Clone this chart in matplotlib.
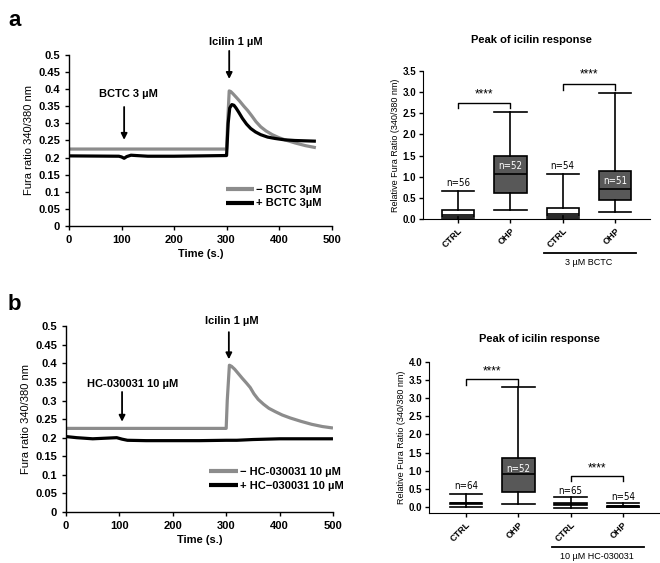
import matplotlib
matplotlib.use("Agg")
import matplotlib.pyplot as plt
import numpy as np

plt.rcParams['font.family'] = ['Liberation Sans', 'DejaVu Sans']

# ---------------- data ----------------
# panel a, traces
a_gray_t = [0, 300, 302, 305, 308, 312, 318, 325, 333, 340, 348, 356, 365, 375, 387, 400, 415, 430, 450, 470]
a_gray_y = [0.225, 0.225, 0.30, 0.395, 0.393, 0.387, 0.377, 0.365, 0.35, 0.338, 0.322, 0.305, 0.29, 0.278,
            0.267, 0.258, 0.25, 0.243, 0.235, 0.229]
a_black_t = [0, 95, 100, 105, 110, 118, 128, 150, 200, 250, 298, 300, 303, 306, 310, 314, 318, 323, 330, 338,
             346, 355, 365, 378, 392, 410, 430, 470]
a_black_y = [0.205, 0.204, 0.202, 0.198, 0.203, 0.207, 0.206, 0.204, 0.204, 0.205, 0.206, 0.206, 0.30, 0.345,
             0.355, 0.353, 0.345, 0.333, 0.315, 0.298, 0.285, 0.275, 0.267, 0.26, 0.256, 0.252, 0.25, 0.248]
# panel b, traces
b_gray_t = [0, 300, 302, 306, 310, 316, 323, 330, 338, 345, 352, 360, 370, 380, 392, 405, 420, 440, 460, 480, 500]
b_gray_y = [0.225, 0.225, 0.30, 0.395, 0.392, 0.384, 0.372, 0.36, 0.347, 0.335, 0.318, 0.303, 0.29, 0.279,
            0.27, 0.261, 0.253, 0.244, 0.236, 0.23, 0.226]
b_black_t = [0, 20, 50, 80, 95, 105, 115, 150, 200, 250, 300, 320, 350, 400, 450, 500]
b_black_y = [0.203, 0.200, 0.197, 0.199, 0.200, 0.196, 0.193, 0.192, 0.192, 0.192, 0.193, 0.193, 0.195,
             0.197, 0.197, 0.197]

# box plots
box_cats = ['CTRL', 'OHP', 'CTRL', 'OHP']
a_low = [0.0, 0.22, 0.02, 0.16]
a_q1 = [0.05, 0.62, 0.07, 0.45]
a_med = [0.10, 1.07, 0.12, 0.70]
a_q3 = [0.22, 1.50, 0.27, 1.13]
a_high = [0.67, 2.52, 1.07, 2.97]
a_n = ['n=56', 'n=52', 'n=54', 'n=51']
a_ticks = [0.0, 0.5, 1.0, 1.5, 2.0, 2.5, 3.0, 3.5]

b_low = [0.0, 0.07, -0.02, 0.0]
b_q1 = [0.07, 0.40, 0.05, 0.0]
b_med = [0.10, 0.90, 0.07, 0.02]
b_q3 = [0.12, 1.35, 0.10, 0.03]
b_high = [0.35, 3.30, 0.27, 0.12]
b_n = ['n=64', 'n=52', 'n=65', 'n=54']
b_ticks = [0.0, 0.5, 1.0, 1.5, 2.0, 2.5, 3.0, 3.5, 4.0]

GRAY = '#8c8c8c'
DARK = '#585858'

fig = plt.figure(figsize=(6.6, 5.63), dpi=100)


def trace_axes(rect, gt, gy, bt, by, drug_label, drug_xy, drug_arrow, ic_xy, ic_arrow, leg_labels, leg_anchor):
    ax = fig.add_axes(rect)
    ax.plot(gt, gy, color=GRAY, lw=2.3, solid_capstyle='butt')
    ax.plot(bt, by, color='black', lw=2.3, solid_capstyle='butt')
    ax.set_xlim(0, 500)
    ax.set_ylim(0, 0.5)
    ax.set_xticks([0, 100, 200, 300, 400, 500])
    ax.set_yticks([0, 0.05, 0.1, 0.15, 0.2, 0.25, 0.3, 0.35, 0.4, 0.45, 0.5])
    ax.set_yticklabels(['0', '0.05', '0.1', '0.15', '0.2', '0.25', '0.3', '0.35', '0.4', '0.45', '0.5'])
    for s in ['top', 'right']:
        ax.spines[s].set_visible(False)
    for s in ['left', 'bottom']:
        ax.spines[s].set_linewidth(1.0)
    ax.tick_params(direction='out', length=3, width=1, labelsize=8)
    for lab in ax.get_xticklabels() + ax.get_yticklabels():
        lab.set_fontweight('bold')
    ax.set_xlabel('Time (s.)', fontsize=8, fontweight='bold', labelpad=3)
    ax.set_ylabel('Fura ratio 340/380 nm', fontsize=8, labelpad=3)
    ax.text(drug_xy[0], drug_xy[1], drug_label, ha='center', va='center', fontsize=8, fontweight='bold')
    ax.annotate('', xy=(drug_arrow[0], drug_arrow[2]), xytext=(drug_arrow[0], drug_arrow[1]),
                arrowprops=dict(arrowstyle='-|>', color='black', lw=1.3, mutation_scale=9, shrinkA=0, shrinkB=0))
    ax.text(ic_xy[0], ic_xy[1], 'Icilin 1 µM', ha='center', va='center', fontsize=8, fontweight='bold', clip_on=False)
    ax.annotate('', xy=(ic_arrow[0], ic_arrow[2]), xytext=(ic_arrow[0], ic_arrow[1]),
                arrowprops=dict(arrowstyle='-|>', color='black', lw=1.3, mutation_scale=9, shrinkA=0, shrinkB=0),
                annotation_clip=False)
    leg = ax.legend(leg_labels, loc='lower left', bbox_to_anchor=leg_anchor, frameon=False,
                    handlelength=2.6, handletextpad=0.15, borderpad=0, labelspacing=0.35,
                    prop={'size': 8, 'weight': 'bold'})
    for h in leg.get_lines():
        h.set_linewidth(3.0)
    return ax


trace_axes([0.1045, 0.5986, 0.398, 0.3037], a_gray_t, a_gray_y, a_black_t, a_black_y,
           'BCTC 3 µM', (113, 0.386), (105, 0.348, 0.252), (318, 0.538), (305, 0.512, 0.43),
           ['− BCTC 3µM', '+ BCTC 3µM'], (0.575, 0.07))

trace_axes([0.100, 0.0906, 0.4045, 0.330], b_gray_t, b_gray_y, b_black_t, b_black_y,
           'HC-030031 10 µM', (124, 0.344), (105, 0.323, 0.243), (311, 0.513), (305, 0.484, 0.411),
           ['− HC-030031 10 µM', '+ HC−030031 10 µM'], (0.515, 0.085))


def box_axes(rect, ylim, xlim, ticks, low, q1, med, q3, high, nlab, nly, fills, ncol,
             brackets, group_label, group_y, title, title_y):
    ax = fig.add_axes(rect)
    pos = [1, 2, 3, 4]
    stats = []
    for i in range(4):
        stats.append(dict(whislo=low[i], q1=q1[i], med=med[i], q3=q3[i], whishi=high[i]))
    bp = ax.bxp(stats, positions=pos, widths=0.62, showfliers=False, patch_artist=True,
                boxprops=dict(linewidth=1.2, edgecolor='black'),
                medianprops=dict(color='black', linewidth=1.2),
                whiskerprops=dict(linewidth=1.2), capprops=dict(linewidth=1.2), capwidths=0.62)
    for patch, fc in zip(bp['boxes'], fills):
        patch.set_facecolor(fc)
    for i in range(4):
        ax.text(pos[i], nly[i], nlab[i], ha='center', va='center', fontsize=7, color=ncol[i],
                family=['DejaVu Sans'], stretch='condensed')
    for (x1, x2, yb, yt, ys) in brackets:
        ax.plot([x1, x1, x2, x2], [yt, yb, yb, yt], color='black', lw=1.0)
        ax.text((x1 + x2) / 2, ys, '****', ha='center', va='center', fontsize=8.5)
    ax.set_xlim(*xlim)
    ax.set_ylim(*ylim)
    ax.set_yticks(ticks)
    ax.set_yticklabels(['%.1f' % t for t in ticks])
    ax.set_xticks(pos)
    ax.set_xticklabels(box_cats, rotation=45, ha='right', rotation_mode='anchor', fontsize=6.5, fontweight='bold')
    ax.tick_params(axis='y', direction='out', length=3, width=1, labelsize=7, pad=2)
    ax.tick_params(axis='x', direction='out', length=3, width=1, pad=2)
    for lab in ax.get_yticklabels():
        lab.set_fontweight('bold')
    for s in ['top', 'right']:
        ax.spines[s].set_visible(False)
    ax.spines['left'].set_bounds(ylim[0], ticks[-1])
    ax.set_ylabel('Relative Fura Ratio (340/380 nm)', fontsize=6.5, labelpad=2)
    ax.plot([2.65, 4.4], [group_y, group_y], color='black', lw=1.3, clip_on=False)
    ax.text(3.5, group_y - 0.065 * (ylim[1] - ylim[0]), group_label, ha='center', va='center', fontsize=6.5,
            clip_on=False)
    ax.text(2.4, title_y, title, ha='center', va='center', fontsize=8, fontweight='bold', clip_on=False)
    return ax


box_axes([0.641, 0.611, 0.344, 0.263], (0, 3.5), (0.33, 4.67), a_ticks,
         a_low, a_q1, a_med, a_q3, a_high, a_n, [0.85, 1.25, 1.25, 0.9],
         ['white', DARK, 'white', DARK], ['black', 'white', 'black', 'white'],
         [(1, 2, 2.75, 2.62, 2.95), (3, 4, 3.18, 3.05, 3.41)],
         '3 µM BCTC', -0.8, 'Peak of icilin response', 4.22)

box_axes([0.65, 0.0888, 0.35, 0.268], (-0.17, 4.0), (0.29, 4.71), b_ticks,
         b_low, b_q1, b_med, b_q3, b_high, b_n, [0.57, 1.05, 0.45, 0.28],
         ['white', DARK, 'white', 'white'], ['black', 'white', 'black', 'black'],
         [(1, 2, 3.53, 3.38, 3.75), (3, 4, 0.85, 0.72, 1.07)],
         '10 µM HC-030031', -1.1, 'Peak of icilin response', 4.65)

fig.text(0.012, 0.982, 'a', fontsize=16, fontweight='bold', va='top', ha='left')
fig.text(0.012, 0.478, 'b', fontsize=16, fontweight='bold', va='top', ha='left')

fig.savefig('out.png', dpi=100)
